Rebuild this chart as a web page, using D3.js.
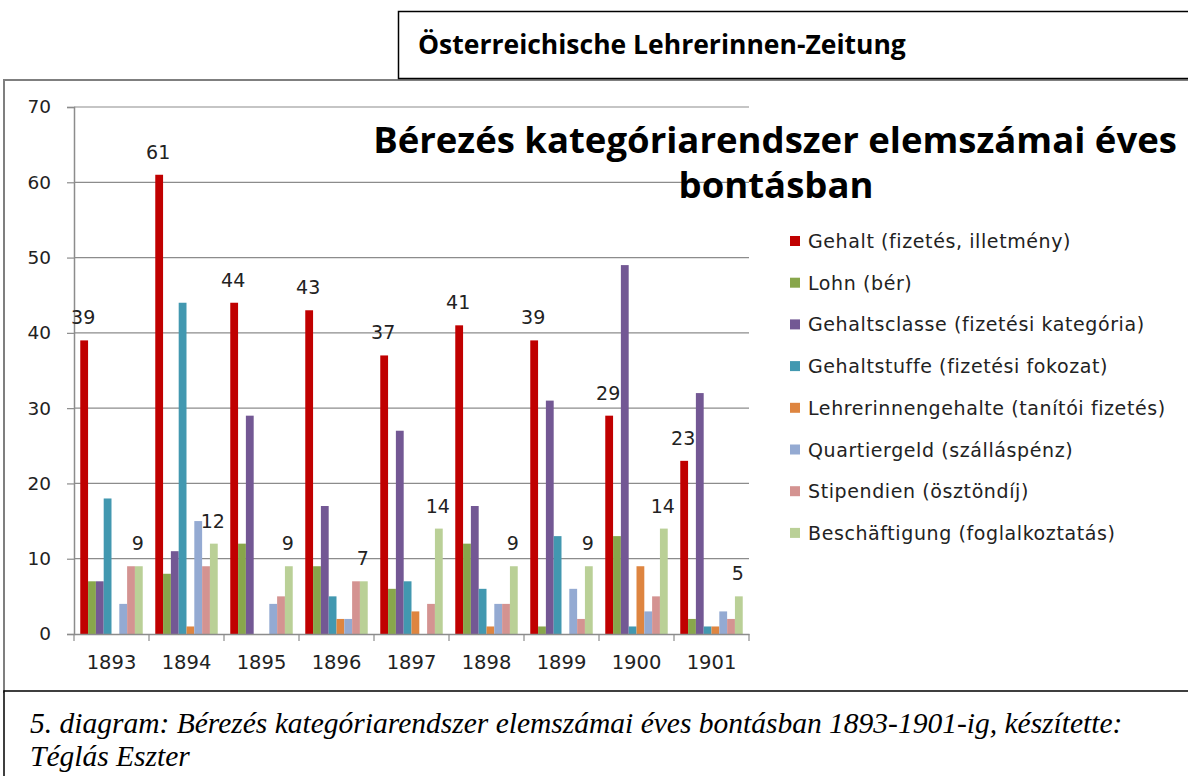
<!DOCTYPE html>
<html>
<head>
<meta charset="utf-8">
<script src="https://cdn.jsdelivr.net/npm/d3@7"></script>
<style>
  body { margin: 0; background: #fff; }
  svg { display: block; }
</style>
</head>
<body>
<svg id="chart"></svg>
<script>
// chart values
const years = ["1893", "1894", "1895", "1896", "1897", "1898", "1899", "1900", "1901"];
const seriesNames = [
  "Gehalt (fizetés, illetmény)",
  "Lohn (bér)",
  "Gehaltsclasse (fizetési kategória)",
  "Gehaltstuffe (fizetési fokozat)",
  "Lehrerinnengehalte (tanítói fizetés)",
  "Quartiergeld (szálláspénz)",
  "Stipendien (ösztöndíj)",
  "Beschäftigung (foglalkoztatás)"
];
const gehalt        = [39, 61, 44, 43, 37, 41, 39, 29, 23];
const lohn          = [7, 8, 12, 9, 6, 12, 1, 13, 2];
const gehaltsclasse = [7, 11, 29, 17, 27, 17, 31, 49, 32];
const gehaltstuffe  = [18, 44, 0, 5, 7, 6, 13, 1, 1];
const lehrerinnen   = [0, 1, 0, 2, 3, 1, 0, 9, 1];
const quartiergeld  = [4, 15, 4, 2, 0, 4, 6, 3, 3];
const stipendien    = [9, 9, 5, 7, 4, 4, 2, 5, 2];
const beschaeft     = [9, 12, 9, 7, 14, 9, 9, 14, 5];
const yTicks = [0, 10, 20, 30, 40, 50, 60, 70];

const seriesValues = [gehalt, lohn, gehaltsclasse, gehaltstuffe, lehrerinnen, quartiergeld, stipendien, beschaeft];
const colors = ["#C00000", "#88A64B", "#735894", "#4298B0", "#DE8540", "#94AAD2", "#D49391", "#BAD097"];
const labelled = [0, 7]; // only these series carry data labels

const width = 1188, height = 776;
const svg = d3.select("#chart").attr("width", width).attr("height", height);

const sans = "'DejaVu Sans', Verdana, sans-serif";

// outer chart frame
svg.append("rect")
  .attr("x", 4).attr("y", 80)
  .attr("width", width + 10).attr("height", 612)
  .attr("fill", "#fff")
  .attr("stroke", "#7f7f7f").attr("stroke-width", 2);

// header box
svg.append("rect")
  .attr("x", 398.5).attr("y", 11.5)
  .attr("width", width).attr("height", 67)
  .attr("fill", "#fff")
  .attr("stroke", "#000").attr("stroke-width", 1.5);
svg.append("text")
  .attr("x", 418).attr("y", 54)
  .attr("font-family", "'Open Sans', sans-serif")
  .attr("font-weight", "bold")
  .attr("font-size", 26.5)
  .text("Österreichische Lehrerinnen-Zeitung");

// scales
const plot = { left: 74, right: 749, top: 107, bottom: 634 };

const x0 = d3.scaleBand()
  .domain(years)
  .range([plot.left, plot.right])
  .paddingInner(0.167)
  .paddingOuter(0.0835);

const x1 = d3.scaleBand()
  .domain(d3.range(seriesNames.length))
  .range([0, x0.bandwidth()]);

const y = d3.scaleLinear()
  .domain([0, 70])
  .range([plot.bottom, plot.top]);

// gridlines
svg.append("g")
  .selectAll("line")
  .data(yTicks.slice(1))
  .join("line")
  .attr("x1", plot.left).attr("x2", plot.right)
  .attr("y1", d => y(d)).attr("y2", d => y(d))
  .attr("stroke", "#8c8c8c").attr("stroke-width", 1.2);

// y axis
const yAxis = svg.append("g")
  .attr("transform", `translate(${plot.left},0)`)
  .call(d3.axisLeft(y).tickValues(yTicks).tickSize(7).tickPadding(16));
yAxis.select(".domain").attr("stroke", "#8c8c8c").attr("stroke-width", 1.5);
yAxis.selectAll(".tick line").attr("stroke", "#8c8c8c").attr("stroke-width", 1.2);
yAxis.selectAll("text")
  .attr("font-family", sans).attr("font-size", 18.5).attr("fill", "#222");

// bars
const groups = svg.append("g")
  .selectAll("g")
  .data(years)
  .join("g")
  .attr("transform", d => `translate(${x0(d)},0)`);

groups.selectAll("rect")
  .data((yr, i) => seriesValues.map((vals, s) => ({ s, v: vals[i] })))
  .join("rect")
  .attr("x", d => x1(d.s))
  .attr("width", x1.bandwidth())
  .attr("y", d => y(d.v))
  .attr("height", d => y(0) - y(d.v))
  .attr("fill", d => colors[d.s]);

// data labels
groups.selectAll("text")
  .data((yr, i) => labelled.map(s => ({ s, v: seriesValues[s][i] })))
  .join("text")
  .attr("x", d => x1(d.s) + x1.bandwidth() / 2 - 1)
  .attr("y", d => y(d.v) - 16)
  .attr("text-anchor", "middle")
  .attr("font-family", sans).attr("font-size", 19).attr("fill", "#222")
  .text(d => d.v);

// x axis
const xAxis = svg.append("g")
  .attr("transform", `translate(0,${plot.bottom})`)
  .call(d3.axisBottom(x0).tickSize(0).tickPadding(21));
xAxis.select(".domain").attr("stroke", "#8c8c8c").attr("stroke-width", 1.5);
xAxis.selectAll("text")
  .attr("font-family", sans).attr("font-size", 19.5).attr("fill", "#222");
// tick marks at category boundaries
xAxis.append("g")
  .selectAll("line")
  .data(d3.range(years.length + 1))
  .join("line")
  .attr("x1", i => plot.left + i * x0.step())
  .attr("x2", i => plot.left + i * x0.step())
  .attr("y1", 0).attr("y2", 7)
  .attr("stroke", "#8c8c8c").attr("stroke-width", 1.2);

// chart title
const title = svg.append("text")
  .attr("text-anchor", "middle")
  .attr("font-family", "'Open Sans', sans-serif")
  .attr("font-weight", "bold")
  .attr("font-size", 36.5)
  .attr("fill", "#000");
title.append("tspan").attr("x", 775).attr("y", 153).text("Bérezés kategóriarendszer elemszámai éves");
title.append("tspan").attr("x", 776).attr("y", 198).text("bontásban");

// legend
const legend = svg.append("g")
  .selectAll("g")
  .data(seriesNames)
  .join("g")
  .attr("transform", (d, i) => `translate(790,${241 + i * 41.7})`);
legend.append("rect")
  .attr("x", 0).attr("y", -5)
  .attr("width", 10).attr("height", 10)
  .attr("fill", (d, i) => colors[i]);
legend.append("text")
  .attr("x", 18).attr("y", 7)
  .attr("font-family", sans).attr("font-size", 19)
  .attr("letter-spacing", 0.6)
  .attr("fill", "#222")
  .text(d => d);

// caption box
svg.append("rect")
  .attr("x", 4).attr("y", 691)
  .attr("width", width + 10).attr("height", 100)
  .attr("fill", "#fff")
  .attr("stroke", "#000").attr("stroke-width", 1.5);
const caption = svg.append("text")
  .attr("font-family", "'Liberation Serif', 'Times New Roman', serif")
  .attr("font-style", "italic")
  .attr("font-size", 29.5)
  .attr("fill", "#000");
caption.append("tspan").attr("x", 30).attr("y", 733)
  .text("5. diagram: Bérezés kategóriarendszer elemszámai éves bontásban 1893-1901-ig, készítette:");
caption.append("tspan").attr("x", 30).attr("y", 766).text("Téglás Eszter");
</script>
</body>
</html>
